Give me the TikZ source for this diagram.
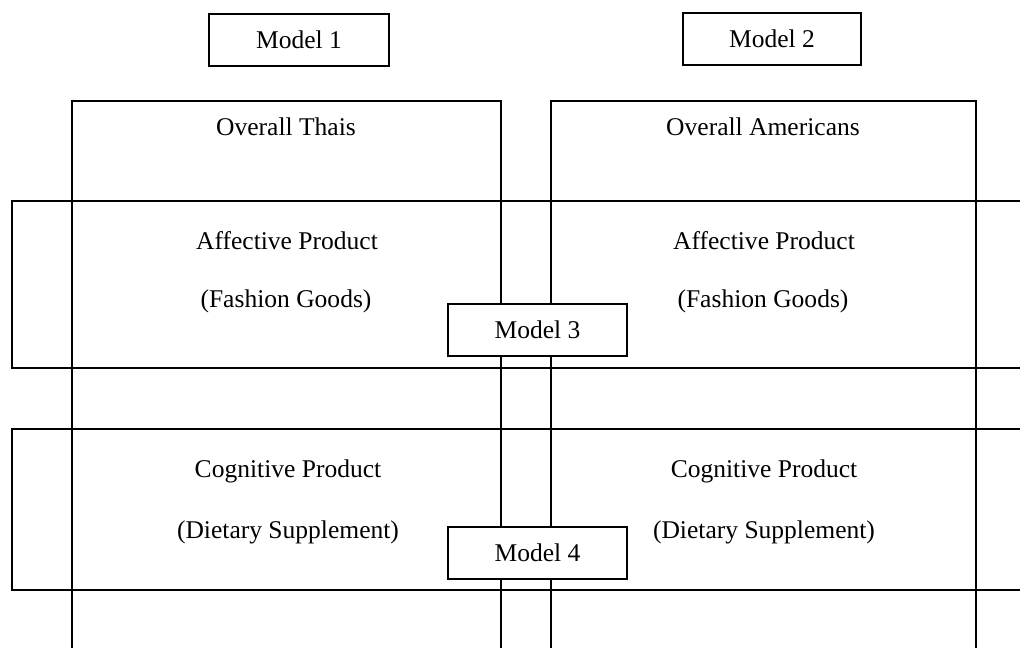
\documentclass[tikz,border=0pt]{standalone}
\usepackage{fontspec}
\setmainfont{Liberation Serif}
\begin{document}
\begin{tikzpicture}[
  x=0.47pt, y=-0.47pt,
  frame/.style={draw=black, line width=0.65pt},
  modelbox/.style={draw=black, line width=0.65pt, fill=white,
    minimum height=24.4pt, inner sep=0pt,
    font=\fontsize{12}{14}\selectfont},
  label/.style={anchor=base, inner sep=0pt,
    font=\fontsize{12}{14}\selectfont},
]
\useasboundingbox (0,0) rectangle (1020,648);
\clip (0,0) rectangle (1020,648);

% column frames (open at the bottom)
\draw[frame] (72,660) -- (72,101) -- (501,101) -- (501,660);
\draw[frame] (551,660) -- (551,101) -- (976,101) -- (976,660);

% product bands (open at the right)
\draw[frame] (1030,201) -- (12,201) -- (12,368) -- (1030,368);
\draw[frame] (1030,429) -- (12,429) -- (12,590) -- (1030,590);

% column headings
\node[label] (thais) at (286,136) {Overall Thais};
\node[label] (americans) at (763,136) {Overall Americans};

% affective band
\node[label] (affL) at (287,250) {Affective Product};
\node[label] (fashL) at (286,308) {(Fashion Goods)};
\node[label] (affR) at (764,250) {Affective Product};
\node[label] (fashR) at (763,308) {(Fashion Goods)};

% cognitive band
\node[label] (cogL) at (288,478) {Cognitive Product};
\node[label] (dietL) at (288,539) {(Dietary Supplement)};
\node[label] (cogR) at (764,478) {Cognitive Product};
\node[label] (dietR) at (764,539) {(Dietary Supplement)};

% model boxes
\node[modelbox, minimum width=84.6pt] (m1) at (299,40) {Model 1};
\node[modelbox, minimum width=83.7pt] (m2) at (772,39) {Model 2};
\node[modelbox, minimum width=84.1pt] (m3) at (537.5,330) {Model 3};
\node[modelbox, minimum width=84.1pt] (m4) at (537.5,553) {Model 4};
\end{tikzpicture}
\end{document}
